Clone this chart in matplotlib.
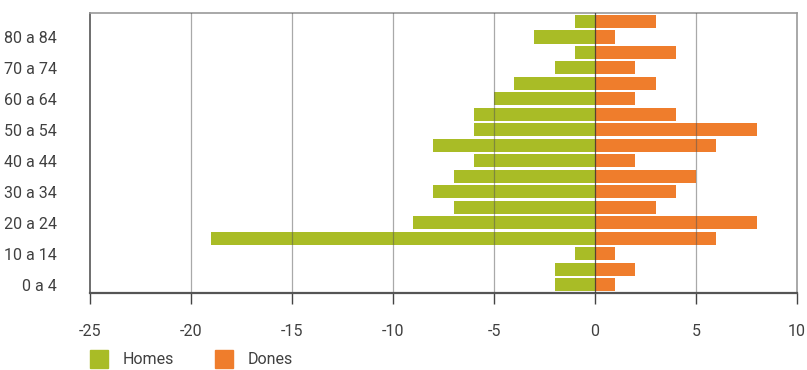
import matplotlib
matplotlib.use("Agg")
import matplotlib.pyplot as plt
from matplotlib.patches import Rectangle

age_groups = ["0 a 4", "5 a 9", "10 a 14", "15 a 19", "20 a 24", "25 a 29",
              "30 a 34", "35 a 39", "40 a 44", "45 a 49", "50 a 54", "55 a 59",
              "60 a 64", "65 a 69", "70 a 74", "75 a 79", "80 a 84", "85 i més"]
homes = [-2, -2, -1, -19, -9, -7, -8, -7, -6, -8, -6, -6, -5, -4, -2, -1, -3, -1]
dones = [1, 2, 1, 6, 8, 3, 4, 5, 2, 6, 8, 4, 2, 3, 2, 4, 1, 3]
x_ticks = [-25, -20, -15, -10, -5, 0, 5, 10]

green = "#A9BC26"
orange = "#EF7D2C"
text_col = "#404040"
fs = 11.5

plt.rcParams["font.family"] = ["Roboto", "DejaVu Sans"]

fig = plt.figure(figsize=(8.07, 3.70), dpi=100)
ax = fig.add_axes([90 / 807, 1 - 293 / 370, (797 - 90) / 807, (293 - 13) / 370])

pos = list(range(len(age_groups)))
ax.barh(pos, homes, height=0.84, color=green, zorder=2)
ax.barh(pos, dones, height=0.84, color=orange, zorder=2)

ax.set_xlim(-25, 10)
ax.set_ylim(-0.53, len(age_groups) - 0.45)

for t in x_ticks:
    if t == 0:
        ax.axvline(t, color="#333333", lw=0.9, alpha=0.8, zorder=3)
    elif t not in (-25, 10):
        ax.axvline(t, color="#555555", lw=0.9, alpha=0.5, zorder=3)

ax.set_xticks(x_ticks)
ax.set_xticklabels([str(t) for t in x_ticks], fontsize=fs, color=text_col)
ax.tick_params(axis="x", length=8, width=1, color="#444444", pad=14)

ax.set_yticks(pos[::2])
ax.set_yticklabels(age_groups[::2], fontsize=fs, color=text_col)
ax.tick_params(axis="y", length=0, pad=24)

for side in ("top", "right"):
    ax.spines[side].set_color("#999999")
    ax.spines[side].set_linewidth(1.2)
ax.spines["left"].set_color("#555555")
ax.spines["left"].set_linewidth(1.2)
ax.spines["bottom"].set_color("#555555")
ax.spines["bottom"].set_linewidth(1.6)

# legend drawn manually in figure pixels
def legend_item(x, color, label):
    fig.patches.append(Rectangle((x / 807, 1 - 368 / 370), 18 / 807, 18 / 370,
                                 transform=fig.transFigure, color=color))
    fig.text((x + 33) / 807, 1 - 359 / 370, label, fontsize=fs,
             color=text_col, va="center", ha="left")

legend_item(90, green, "Homes")
legend_item(215, orange, "Dones")

fig.savefig("out.png", dpi=100)
